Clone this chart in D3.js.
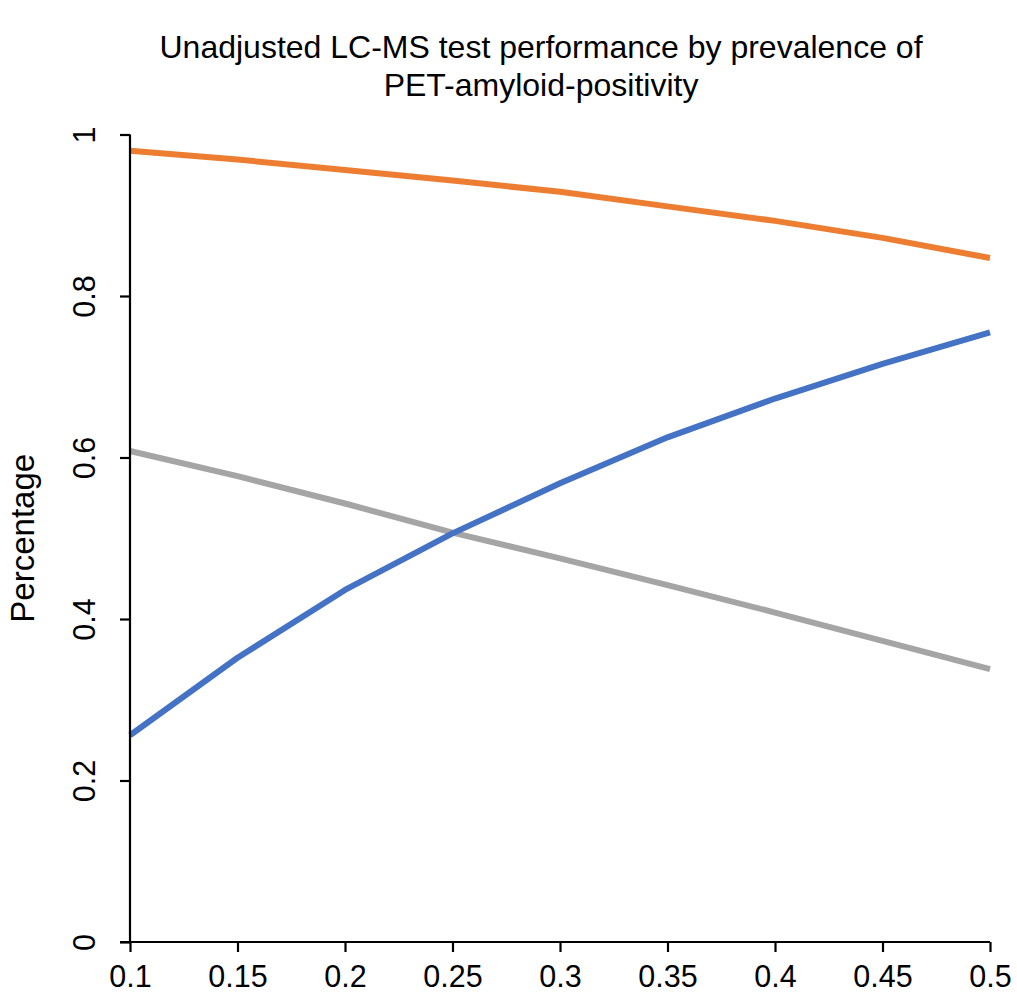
<!DOCTYPE html>
<html>
<head>
<meta charset="utf-8">
<script src="https://cdn.jsdelivr.net/npm/d3@7"></script>
<style>
  html, body { margin: 0; padding: 0; background: #fff; }
  svg { display: block; }
  text { font-family: "Liberation Sans", Arial, Helvetica, sans-serif; fill: #000; }
</style>
</head>
<body>
<script>
// Prevalence of PET-amyloid-positivity (x values)
const prevalence = [0.1, 0.15, 0.2, 0.25, 0.3, 0.35, 0.4, 0.45, 0.5];

// Series values
const npv = [0.980, 0.969, 0.956, 0.943, 0.929, 0.911, 0.893, 0.872, 0.847];
const ppv = [0.256, 0.352, 0.436, 0.506, 0.568, 0.625, 0.673, 0.716, 0.755];
const third = [0.608, 0.577, 0.543, 0.507, 0.475, 0.442, 0.408, 0.373, 0.338];

// Tick labels
const xTicks = [0.1, 0.15, 0.2, 0.25, 0.3, 0.35, 0.4, 0.45, 0.5];
const yTicks = [0, 0.2, 0.4, 0.6, 0.8, 1];

const titleLines = ["Unadjusted LC-MS test performance by prevalence of", "PET-amyloid-positivity"];
const yLabel = "Percentage";

const series = [
  { values: third, color: "#A5A5A5" },
  { values: ppv, color: "#4472C4" },
  { values: npv, color: "#ED7D31" }
];

const W = 1017, H = 998;
const margin = { left: 130, right: 27, top: 134.5, bottom: 56 };

const svg = d3.select("body").append("svg").attr("width", W).attr("height", H);

const x = d3.scaleLinear().domain([0.1, 0.5]).range([margin.left, W - margin.right]);
const y = d3.scaleLinear().domain([0, 1]).range([H - margin.bottom, margin.top]);

// Lines
const line = d3.line().x((d, i) => x(prevalence[i])).y(d => y(d));
svg.append("g").selectAll("path")
  .data(series)
  .join("path")
  .attr("d", s => line(s.values))
  .attr("fill", "none")
  .attr("stroke", s => s.color)
  .attr("stroke-width", 6)
  .attr("stroke-linejoin", "round");

// Axes
const xAxis = d3.axisBottom(x).tickValues(xTicks).tickSize(10).tickSizeOuter(0).tickPadding(13)
  .tickFormat(d3.format("~g"));
const gx = svg.append("g").attr("transform", `translate(0,${y(0)})`).call(xAxis);
gx.select(".domain").attr("stroke", "#000").attr("stroke-width", 2.2)
  .attr("d", `M${x(0.1) - 10},0H${x(0.5)}`);
gx.selectAll(".tick line").attr("stroke", "#000").attr("stroke-width", 2.2);
gx.selectAll(".tick text").attr("font-size", 30.5).attr("font-family", "Liberation Sans, Arial, sans-serif");

const yAxis = d3.axisLeft(y).tickValues(yTicks).tickSize(10).tickSizeOuter(0)
  .tickFormat(d3.format("~g"));
const gy = svg.append("g").attr("transform", `translate(${x(0.1)},0)`).call(yAxis);
gy.select(".domain").attr("stroke", "#000").attr("stroke-width", 2.2)
  .attr("d", `M0,${y(1)}V${y(0)}`);
gy.selectAll(".tick line").attr("stroke", "#000").attr("stroke-width", 2.2);
gy.selectAll(".tick text")
  .attr("font-size", 30.5)
  .attr("font-family", "Liberation Sans, Arial, sans-serif")
  .attr("x", null).attr("dy", null)
  .attr("text-anchor", "middle")
  .attr("transform", "translate(-35,0) rotate(-90)");

// Y-axis title
svg.append("text")
  .attr("transform", `translate(34,${(y(0) + y(1)) / 2}) rotate(-90)`)
  .attr("text-anchor", "middle")
  .attr("font-size", 33)
  .text(yLabel);

// Chart title
svg.append("text")
  .attr("text-anchor", "middle")
  .attr("font-size", 32)
  .selectAll("tspan")
  .data(titleLines)
  .join("tspan")
  .attr("x", 541)
  .attr("y", (d, i) => 58 + i * 38)
  .text(d => d);
</script>
</body>
</html>
